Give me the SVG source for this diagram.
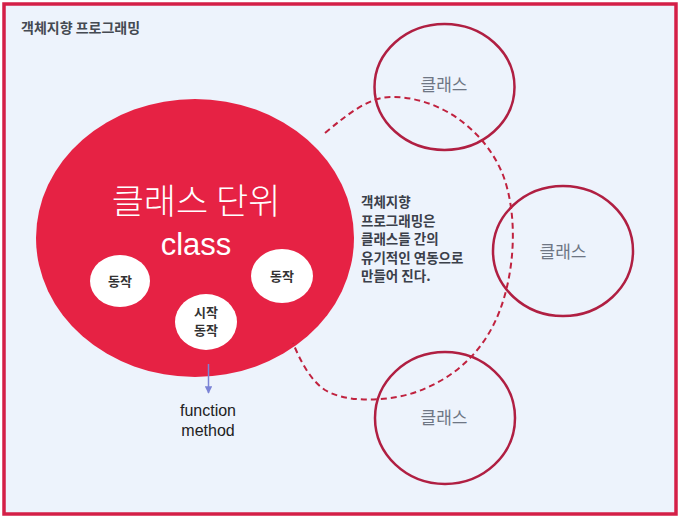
<svg xmlns="http://www.w3.org/2000/svg" width="682" height="517" viewBox="0 0 682 517">
<defs>
<style>
.ko{font-family:"Noto Sans CJK KR","Noto Sans",sans-serif}
.cls{fill:none;stroke:#b01f42;stroke-width:2.5}
.clsT{font-size:17px;fill:#6e7684;text-anchor:middle}
.act{fill:#ffffff}
.actT{font-size:13px;font-weight:bold;fill:#333;text-anchor:middle}
.para{font-size:13.5px;font-weight:bold;fill:#3b404a}
</style>
<marker id="ah" viewBox="0 0 10 10" refX="9" refY="5" markerWidth="5" markerHeight="5" orient="auto">
<path d="M0,0 L10,5 L0,10 z" fill="#7b83d6"/>
</marker>
</defs>
<rect x="4" y="4" width="672" height="510" fill="#edf3fc" stroke="#d41f47" stroke-width="3.5"/>
<text class="ko" x="21" y="33" font-size="14" font-weight="bold" fill="#454a52">객체지향 프로그래밍</text>

<g id="main-class">
<ellipse cx="195" cy="238" rx="159" ry="139" fill="#e62244"/>
<text class="ko" x="196" y="214" font-size="35" font-weight="300" fill="#ffffff" text-anchor="middle">클래스 단위</text>
<text x="196" y="255" font-family="Liberation Sans, Arial, sans-serif" font-size="31" fill="#ffffff" text-anchor="middle">class</text>
</g>
<g id="action-left">
<ellipse class="act" cx="120" cy="281" rx="30" ry="26"/>
<text class="ko actT" x="120" y="286">동작</text>
</g>
<g id="action-right">
<ellipse class="act" cx="282" cy="276" rx="31" ry="27"/>
<text class="ko actT" x="282" y="281">동작</text>
</g>
<g id="action-start">
<ellipse class="act" cx="206" cy="322" rx="31" ry="28"/>
<text class="ko actT" x="206" y="317" font-size="12.5">시작</text>
<text class="ko actT" x="206" y="335" font-size="12.5">동작</text>
</g>

<g id="class-top">
<ellipse class="cls" cx="444.5" cy="87" rx="70" ry="63"/>
<text class="ko clsT" x="444" y="91">클래스</text>
</g>
<g id="class-right">
<ellipse class="cls" cx="563" cy="251" rx="70" ry="65"/>
<text class="ko clsT" x="563" y="258">클래스</text>
</g>
<g id="class-bottom">
<ellipse class="cls" cx="445" cy="418" rx="70" ry="66"/>
<text class="ko clsT" x="444" y="424">클래스</text>
</g>

<g id="description">
<text class="ko para" x="361" y="207">객체지향</text>
<text class="ko para" x="361" y="225.5">프로그래밍은</text>
<text class="ko para" x="361" y="244">클래스들 간의</text>
<text class="ko para" x="361" y="262.5">유기적인 연동으로</text>
<text class="ko para" x="361" y="281">만들어 진다.</text>
</g>

<g id="method-label">
<text x="208" y="416" font-family="Liberation Sans, Arial, sans-serif" font-size="16" fill="#222" text-anchor="middle">function</text>
<text x="208" y="436" font-family="Liberation Sans, Arial, sans-serif" font-size="16" fill="#222" text-anchor="middle">method</text>
</g>

<g id="connectors">
<path d="M325,133 C350,112 370,97 392,97 C440,97 485,130 503,175 C518,215 515,270 500,310 C485,350 455,380 410,394 C380,402 345,402 325,390 C310,380 300,360 293,343" fill="none" stroke="#c0223f" stroke-width="2" stroke-dasharray="6,4"/>
<line x1="208.5" y1="364" x2="208.5" y2="393" stroke="#7b83d6" stroke-width="1.5" marker-end="url(#ah)"/>
</g>
</svg>
